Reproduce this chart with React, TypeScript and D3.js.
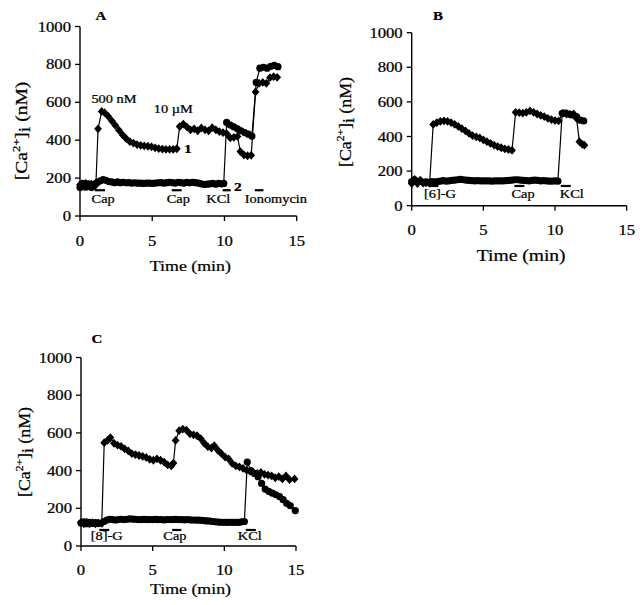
import React from "react";
import * as d3 from "d3";

type Pt = [number, number];

const xTicks = [0, 5, 10, 15];
const yTicks = [0, 200, 400, 600, 800, 1000];

// ---------- Panel A ----------
const seriesA1: Pt[] = [
  [0, 165], [0.2, 158], [0.4, 172], [0.6, 160], [0.8, 168], [1.0, 158], [1.1, 165],
  [1.25, 460], [1.5, 552], [1.7, 545], [1.95, 527], [2.2, 502], [2.45, 478], [2.7, 452],
  [2.95, 428], [3.2, 408], [3.45, 392], [3.7, 385], [3.95, 377], [4.2, 373], [4.45, 370],
  [4.7, 368], [4.95, 365], [5.2, 360], [5.45, 356], [5.7, 353], [5.95, 352], [6.2, 352],
  [6.45, 352], [6.7, 355], [6.9, 472], [7.15, 485], [7.4, 470], [7.65, 455], [7.9, 460],
  [8.15, 450], [8.4, 465], [8.65, 455], [8.9, 450], [9.15, 466], [9.4, 455], [9.65, 445],
  [9.9, 440], [10.15, 435], [10.4, 412], [10.65, 415], [10.9, 420], [11.1, 340],
  [11.35, 322], [11.6, 318], [11.85, 320], [12.15, 655], [12.4, 700], [12.65, 705],
  [12.9, 700], [13.15, 730], [13.4, 735], [13.65, 732],
];
const seriesA2: Pt[] = [
  [0, 150], [0.2, 172], [0.4, 152], [0.6, 170], [0.8, 150], [1.0, 168], [1.2, 178],
  [1.4, 185], [1.6, 192], [1.8, 188], [2.0, 182], [2.2, 180], [2.4, 176], [2.6, 180],
  [2.8, 176], [3.0, 178], [3.2, 175], [3.4, 176], [3.6, 174], [3.8, 175], [4.0, 173],
  [4.2, 174], [4.4, 172], [4.6, 174], [4.8, 173], [5.0, 172], [5.2, 174], [5.4, 175],
  [5.6, 176], [5.8, 174], [6.0, 176], [6.2, 178], [6.4, 176], [6.6, 174], [6.8, 178],
  [7.0, 176], [7.2, 174], [7.4, 177], [7.6, 175], [7.8, 178], [8.0, 176], [8.2, 174],
  [8.4, 170], [8.6, 166], [8.8, 168], [9.0, 170], [9.2, 172], [9.4, 168], [9.6, 172],
  [9.8, 170], [9.95, 172], [10.15, 494], [10.4, 480], [10.65, 470], [10.9, 460],
  [11.15, 450], [11.4, 440], [11.65, 432], [11.9, 422], [12.2, 705], [12.45, 780],
  [12.7, 785], [12.95, 780], [13.2, 790], [13.45, 795], [13.7, 788],
];
const stimLabelsA = ["Cap", "Cap", "KCl", "Ionomycin"];
const stimStartA = [1.04, 6.35, 9.87, 12.1];
const stimEndA = [1.73, 7.04, 10.43, 12.7];
const stimMidA = [1.6, 6.8, 9.57, 13.56];
const noteTextA = ["500 nM", "10 \u00b5M"];
const noteTimeA = [2.35, 6.46];
const noteValueA = [595, 542];
const traceLabelA = ["1", "2"];
const traceLabelTimeA = [7.47, 10.93];
const traceLabelValueA = [331, 133];

// ---------- Panel B ----------
const seriesB1: Pt[] = [
  [0, 128], [0.2, 152], [0.4, 128], [0.6, 148], [0.8, 130], [1.0, 132], [1.25, 130],
  [1.5, 470], [1.75, 480], [2.0, 488], [2.25, 490], [2.5, 488], [2.75, 480], [3.0, 470],
  [3.25, 458], [3.5, 445], [3.75, 432], [4.0, 418], [4.25, 405], [4.5, 398], [4.75, 392],
  [5.0, 380], [5.25, 370], [5.5, 360], [5.75, 350], [6.0, 342], [6.25, 335], [6.5, 328],
  [6.75, 325], [7.0, 320], [7.25, 540], [7.5, 538], [7.75, 535], [8.0, 540], [8.25, 548],
  [8.5, 540], [8.75, 530], [9.0, 522], [9.25, 515], [9.5, 505], [9.75, 498], [10.0, 492],
  [10.25, 490], [10.55, 535], [10.8, 530], [11.05, 528], [11.3, 530], [11.5, 505],
  [11.7, 370], [11.9, 355], [12.05, 350],
];
const seriesB2: Pt[] = [
  [0, 140], [0.2, 150], [0.4, 138], [0.6, 142], [0.8, 135], [1.0, 138], [1.2, 135],
  [1.4, 140], [1.6, 138], [1.8, 140], [2.0, 142], [2.2, 145], [2.4, 142], [2.6, 144],
  [2.8, 146], [3.0, 148], [3.2, 150], [3.4, 152], [3.6, 150], [3.8, 148], [4.0, 146],
  [4.2, 145], [4.4, 144], [4.6, 145], [4.8, 144], [5.0, 143], [5.2, 144], [5.4, 143],
  [5.6, 142], [5.8, 143], [6.0, 144], [6.2, 143], [6.4, 144], [6.6, 145], [6.8, 146],
  [7.0, 148], [7.2, 150], [7.4, 150], [7.6, 148], [7.8, 146], [8.0, 145], [8.2, 144],
  [8.4, 146], [8.6, 148], [8.8, 146], [9.0, 144], [9.2, 145], [9.4, 143], [9.6, 142],
  [9.8, 142], [10.0, 143], [10.2, 142], [10.5, 534], [10.75, 535], [11.0, 528],
  [11.25, 525], [11.5, 515], [11.75, 495], [12.0, 490],
];
const stimLabelsB = ["[6]-G", "Cap", "KCl"];
const stimStartB = [1.16, 7.16, 10.4];
const stimEndB = [1.86, 7.86, 11.1];
const stimMidB = [1.97, 7.77, 11.17];

// ---------- Panel C ----------
const seriesC1: Pt[] = [
  [0, 125], [0.2, 118], [0.4, 126], [0.6, 118], [0.8, 124], [1.0, 118], [1.2, 122],
  [1.45, 120], [1.62, 548], [1.85, 560], [2.05, 575], [2.3, 545], [2.55, 535], [2.8, 528],
  [3.05, 515], [3.3, 505], [3.55, 490], [3.8, 485], [4.05, 480], [4.3, 475], [4.55, 470],
  [4.8, 460], [5.05, 455], [5.3, 462], [5.55, 455], [5.8, 445], [6.05, 430], [6.3, 425],
  [6.45, 440], [6.6, 560], [6.85, 612], [7.1, 620], [7.35, 615], [7.6, 595], [7.85, 590],
  [8.1, 585], [8.35, 570], [8.6, 545], [8.85, 527], [9.1, 520], [9.3, 532], [9.55, 508],
  [9.8, 490], [10.05, 472], [10.3, 462], [10.55, 438], [10.8, 425], [11.05, 420],
  [11.3, 412], [11.55, 402], [11.8, 396], [12.05, 388], [12.3, 385], [12.55, 390],
  [12.8, 380], [13.05, 376], [13.3, 372], [13.55, 362], [13.8, 368], [14.05, 356],
  [14.3, 372], [14.55, 352], [14.9, 356],
];
const seriesC2: Pt[] = [
  [0, 122], [0.2, 128], [0.4, 118], [0.6, 126], [0.8, 120], [1.0, 124], [1.2, 120],
  [1.4, 122], [1.6, 130], [1.8, 138], [2.0, 142], [2.2, 140], [2.4, 138], [2.6, 140],
  [2.8, 142], [3.0, 140], [3.2, 142], [3.4, 144], [3.6, 143], [3.8, 142], [4.0, 140],
  [4.2, 140], [4.4, 141], [4.6, 140], [4.8, 140], [5.0, 140], [5.2, 141], [5.4, 140],
  [5.6, 140], [5.8, 139], [6.0, 140], [6.2, 140], [6.4, 140], [6.6, 141], [6.8, 140],
  [7.0, 140], [7.2, 139], [7.4, 140], [7.6, 139], [7.8, 138], [8.0, 138], [8.2, 137],
  [8.4, 136], [8.6, 135], [8.8, 133], [9.0, 132], [9.2, 130], [9.4, 128], [9.6, 127],
  [9.8, 126], [10.0, 126], [10.2, 125], [10.4, 126], [10.6, 125], [10.8, 126], [11.0, 125],
  [11.2, 128], [11.4, 130], [11.6, 445], [11.85, 400], [12.1, 385], [12.35, 368],
  [12.6, 332], [12.85, 302], [13.1, 290], [13.35, 280], [13.6, 272], [13.85, 262],
  [14.1, 246], [14.35, 226], [14.6, 214], [14.95, 188],
];
const stimLabelsC = ["[8]-G", "Cap", "KCl"];
const stimStartC = [1.28, 6.36, 11.5];
const stimEndC = [1.97, 7.0, 12.2];
const stimMidC = [1.79, 6.55, 11.78];

const FONT = "'Liberation Serif', 'Times New Roman', Times, serif";

interface Layout {
  title: string;
  titleX: number;
  titleY: number;
  x0: number;
  x15: number;
  y0: number;
  y1000: number;
  tickLabelDy: number;
  xTitleDy: number;
  xTitleSize: number;
  yTitleX: number;
  yTitleY: number;
  yTitleScale: number;
  stimBarValue: number;
  stimLabelValue: number;
}

const layouts: Layout[] = [
  { title: "A", titleX: 101, titleY: 20, x0: 80, x15: 296.7, y0: 216, y1000: 26.5, tickLabelDy: 30, xTitleDy: 55, xTitleSize: 15.5, yTitleX: 27, yTitleY: 131, yTitleScale: 1.15, stimBarValue: 136, stimLabelValue: 68 },
  { title: "B", titleX: 438, titleY: 20, x0: 411.7, x15: 626.7, y0: 205.7, y1000: 32.7, tickLabelDy: 29, xTitleDy: 55, xTitleSize: 17, yTitleX: 351, yTitleY: 122, yTitleScale: 1.05, stimBarValue: 114, stimLabelValue: 45 },
  { title: "C", titleX: 97, titleY: 343, x0: 81, x15: 296, y0: 546, y1000: 357.5, tickLabelDy: 29, xTitleDy: 48, xTitleSize: 15.5, yTitleX: 30, yTitleY: 452, yTitleScale: 1.05, stimBarValue: 85, stimLabelValue: 32 },
];

const panelSeries: Pt[][][] = [
  [seriesA1, seriesA2],
  [seriesB1, seriesB2],
  [seriesC1, seriesC2],
];
const panelStims = [
  { labels: stimLabelsA, start: stimStartA, end: stimEndA, mid: stimMidA },
  { labels: stimLabelsB, start: stimStartB, end: stimEndB, mid: stimMidB },
  { labels: stimLabelsC, start: stimStartC, end: stimEndC, mid: stimMidC },
];

const SX = 1.15; // horizontal stretch of the scanned text

function SText(props: {
  x: number;
  y: number;
  size: number;
  anchor?: string;
  weight?: string | number;
  children: React.ReactNode;
}) {
  const { x, y, size, anchor = "middle", weight = "normal", children } = props;
  return (
    <text
      transform={`translate(${x},${y}) scale(${SX},1)`}
      fontSize={size}
      fontFamily={FONT}
      textAnchor={anchor}
      fontWeight={weight}
      fill="#000"
      stroke="#000"
      strokeWidth={0.25}
    >
      {children}
    </text>
  );
}

function Diamond({ cx, cy }: { cx: number; cy: number }) {
  const w = 3.9;
  const h = 4.4;
  return <path d={`M${cx},${cy - h}L${cx + w},${cy}L${cx},${cy + h}L${cx - w},${cy}Z`} fill="#000" />;
}

function Panel({ index }: { index: number }) {
  const L = layouts[index];
  const [s1, s2] = panelSeries[index];
  const stim = panelStims[index];
  const x = d3.scaleLinear().domain([0, 15]).range([L.x0, L.x15]);
  const y = d3.scaleLinear().domain([0, 1000]).range([L.y0, L.y1000]);
  const line = d3
    .line<Pt>()
    .x((d) => x(d[0]))
    .y((d) => y(d[1]));

  return (
    <g>
      {/* axes */}
      <line x1={x(0)} x2={x(0)} y1={y(0)} y2={y(1000)} stroke="#000" strokeWidth={1.4} />
      <line x1={x(0)} x2={x(15)} y1={y(0)} y2={y(0)} stroke="#000" strokeWidth={1.4} />
      {yTicks.map((t) => (
        <g key={"y" + t}>
          <line x1={x(0) - 5} x2={x(0)} y1={y(t)} y2={y(t)} stroke="#000" strokeWidth={1.3} />
          <SText x={x(0) - 9} y={y(t) + 5} size={14.5} anchor="end">
            {t}
          </SText>
        </g>
      ))}
      {xTicks.map((t) => (
        <g key={"x" + t}>
          <line x1={x(t)} x2={x(t)} y1={y(0)} y2={y(0) + 5} stroke="#000" strokeWidth={1.3} />
          <SText x={x(t)} y={y(0) + L.tickLabelDy} size={14.5}>
            {t}
          </SText>
        </g>
      ))}
      <SText x={(x(0) + x(15)) / 2 + 2} y={y(0) + L.xTitleDy} size={L.xTitleSize}>
        Time (min)
      </SText>
      <text
        transform={`translate(${L.yTitleX},${L.yTitleY}) rotate(-90) scale(${L.yTitleScale},1)`}
        fontSize={17}
        fontFamily={FONT}
        textAnchor="middle"
        fill="#000"
        stroke="#000"
        strokeWidth={0.25}
      >
        [Ca
        <tspan dy={-7} fontSize={11}>
          2+
        </tspan>
        <tspan dy={7}>]</tspan>
        <tspan dy={3}>i</tspan>
        <tspan dy={-3}> (nM)</tspan>
      </text>
      <SText x={L.titleX} y={L.titleY} size={13} weight="bold">
        {L.title}
      </SText>

      {/* stimulus bars */}
      {stim.labels.map((lab, i) => (
        <g key={"s" + i}>
          <line
            x1={x(stim.start[i])}
            x2={x(stim.end[i])}
            y1={y(L.stimBarValue)}
            y2={y(L.stimBarValue)}
            stroke="#000"
            strokeWidth={2.2}
          />
          <SText x={x(stim.mid[i])} y={y(L.stimLabelValue)} size={12.5}>
            {lab}
          </SText>
        </g>
      ))}

      {/* traces */}
      {[s2, s1].map((s, k) => (
        <path key={"l" + k} d={line(s) || ""} fill="none" stroke="#000" strokeWidth={1.2} />
      ))}
      {s2.map((d, i) => (
        <circle key={"c" + i} cx={x(d[0])} cy={y(d[1])} r={3.6} fill="#000" />
      ))}
      {s1.map((d, i) => (
        <Diamond key={"d" + i} cx={x(d[0])} cy={y(d[1])} />
      ))}

      {index === 0 && (
        <g>
          {noteTextA.map((t, i) => (
            <SText key={"n" + i} x={x(noteTimeA[i])} y={y(noteValueA[i])} size={12.5}>
              {t}
            </SText>
          ))}
          {traceLabelA.map((t, i) => (
            <SText key={"t" + i} x={x(traceLabelTimeA[i])} y={y(traceLabelValueA[i])} size={13.5} weight="bold">
              {t}
            </SText>
          ))}
        </g>
      )}
    </g>
  );
}

export default function App() {
  return (
    <svg
      width={640}
      height={605}
      viewBox="0 0 640 605"
      style={{ position: "absolute", left: 0, top: 0, background: "#fff" }}
    >
      <rect x={0} y={0} width={640} height={605} fill="#fff" />
      {layouts.map((_, i) => (
        <Panel key={i} index={i} />
      ))}
    </svg>
  );
}
